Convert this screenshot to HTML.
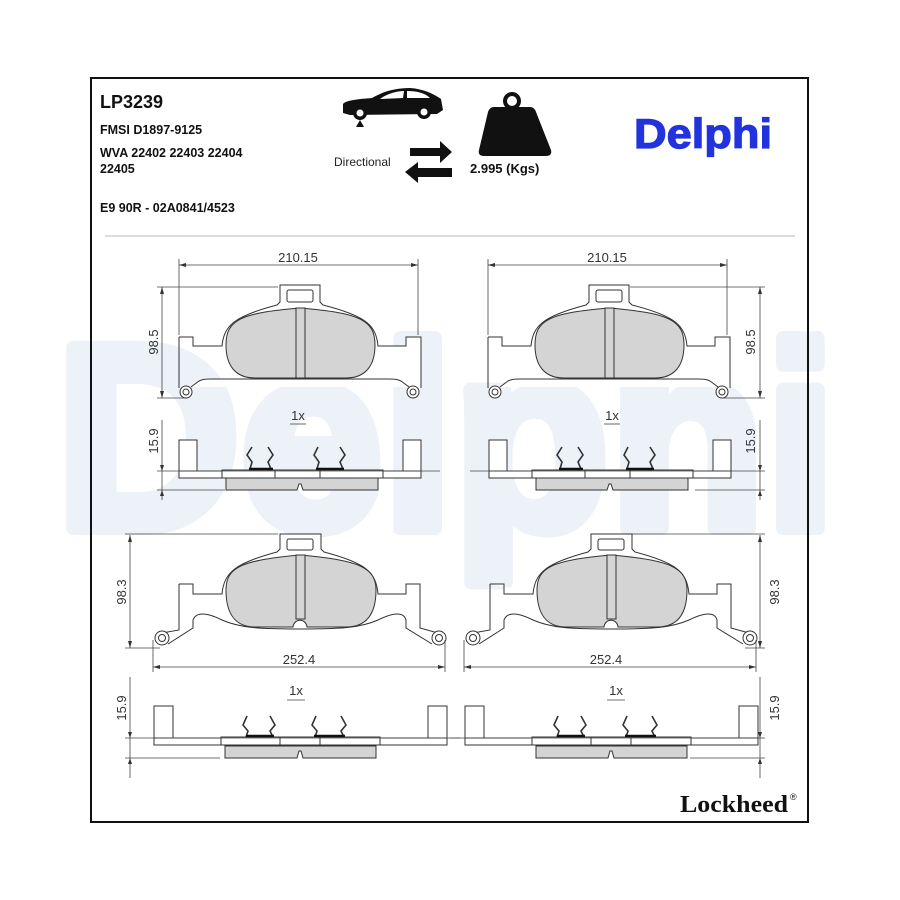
<!DOCTYPE html>
<html><head><meta charset="utf-8"><style>
html,body{margin:0;padding:0;background:#fff;}
svg{display:block}
</style></head><body>
<svg width="900" height="900" viewBox="0 0 900 900" xmlns="http://www.w3.org/2000/svg" font-family="Liberation Sans, sans-serif">
<defs>
<g id="padA" fill="none" stroke="#333" stroke-width="1">
  <path d="M179,337 L193,337 L193,346 L222,346 C224,325 235,316 277,305 L280,302 L280,285 L320,285 L320,302 L323,305 C366,316 376,325 378,346 L406,346 L406,337 L421,337 L421,388 M179,337 L179,388 M191,387 L199,381 C203,379 206,379 212,379 L388,379 C394,379 397,379 401,381 L409,387" fill="#fff"/>
  <rect x="287" y="290" width="26" height="12" rx="2"/>
  <path d="M226,345 C226,320 240,313 300,308 C360,313 375,320 375,345 C375,365 366,378 346,378 L255,378 C235,378 226,365 226,345 Z" fill="#d4d4d4"/>
  <rect x="296" y="308" width="9" height="70" fill="#d4d4d4"/>
  <circle cx="186" cy="392" r="6" fill="#fff"/><circle cx="186" cy="392" r="3"/>
  <circle cx="413" cy="392" r="6" fill="#fff"/><circle cx="413" cy="392" r="3"/>
</g>
<g id="sideA" fill="none" stroke="#333" stroke-width="1">
  <rect x="179" y="440" width="18" height="32" fill="#fff"/>
  <rect x="403" y="440" width="18" height="32" fill="#fff"/>
  <rect x="179" y="471" width="242" height="7" fill="#fff"/>
  <rect x="222" y="470" width="161" height="8" fill="#fff"/>
  <path d="M226,478 L378,478 L378,490 L303,490 L301,484 L299,484 L297,490 L226,490 Z" fill="#d4d4d4"/>
  <line x1="275" y1="470" x2="275" y2="478"/><line x1="320" y1="470" x2="320" y2="478"/>
  <path d="M252,447 L247,455 L252,462 L250,469 M268,447 L273,455 L268,462 L271,469 M318,447 L314,455 L319,462 L317,469 M340,447 L345,455 L340,462 L343,469" stroke-width="1.6"/>
  <path d="M249,469 L273,469 M316,469 L344,469" stroke-width="2.5" stroke="#111"/>
</g>
<g id="padB" fill="none" stroke="#333" stroke-width="1">
  <path d="M179,584 L193,584 L193,594 L222,594 C224,572 236,563 277,552 L280,549 L280,534 L321,534 L321,549 L324,552 C366,563 376,572 378,594 L406,594 L406,584 L420,584 L420,628 L438,633 M179,584 L179,630 L162,633 M168,644 L193,628 L193,620 C196,612 206,612 222,620 C240,628 260,629 300,629 C340,629 360,628 378,620 C394,612 404,612 406,620 L406,628 L432,644" fill="#fff"/>
  <rect x="287" y="539" width="26" height="11" rx="2"/>
  <path d="M226,590 C226,568 240,560 300,555 C360,560 376,568 376,590 C376,612 368,627 346,627 L307,627 C306,618 294,618 293,627 L255,627 C234,627 226,612 226,590 Z" fill="#d4d4d4"/>
  <rect x="296" y="555" width="9" height="64" fill="#d4d4d4"/>
  <circle cx="162" cy="638" r="7" fill="#fff"/><circle cx="162" cy="638" r="3.5"/>
  <circle cx="439" cy="638" r="7" fill="#fff"/><circle cx="439" cy="638" r="3.5"/>
</g>
<g id="sideB" fill="none" stroke="#333" stroke-width="1">
  <rect x="154" y="706" width="19" height="33" fill="#fff"/>
  <rect x="428" y="706" width="19" height="33" fill="#fff"/>
  <rect x="154" y="738" width="293" height="7" fill="#fff"/>
  <rect x="221" y="737" width="159" height="8" fill="#fff"/>
  <path d="M225,746 L376,746 L376,758 L303,758 L301,751 L299,751 L297,758 L225,758 Z" fill="#d4d4d4"/>
  <line x1="280" y1="737" x2="280" y2="745"/><line x1="320" y1="737" x2="320" y2="745"/>
  <path d="M247,716 L243,725 L248,731 L246,737 M270,716 L275,725 L270,731 L273,737 M316,716 L312,725 L317,731 L315,737 M341,716 L346,725 L341,731 L344,737" stroke-width="1.6"/>
  <path d="M246,736 L274,736 M314,736 L345,736" stroke-width="2.5" stroke="#111"/>
</g>
</defs>

<!-- watermark -->
<text x="56" y="528" font-size="262" font-weight="bold" fill="#edf1f8" stroke="#edf1f8" stroke-width="14" stroke-linejoin="round" textLength="780" lengthAdjust="spacingAndGlyphs">Delphi</text>

<rect x="91" y="78" width="717" height="744" fill="none" stroke="#111" stroke-width="2"/>
<line x1="105" y1="236" x2="795" y2="236" stroke="#ddd" stroke-width="2"/>

<!-- header -->
<text x="100" y="108" font-size="18" font-weight="bold" fill="#111">LP3239</text>
<text x="100" y="134" font-size="12.5" font-weight="bold" fill="#111">FMSI D1897-9125</text>
<text x="100" y="157" font-size="12.5" font-weight="bold" fill="#111">WVA 22402 22403 22404</text>
<text x="100" y="173" font-size="12.5" font-weight="bold" fill="#111">22405</text>
<text x="100" y="212" font-size="12.5" font-weight="bold" fill="#111">E9 90R - 02A0841/4523</text>

<!-- car -->
<path d="M343,113 L343,104 C346,100 360,99 372,98 C384,91 396,88 410,88 C424,89 434,94 441,99 L443,110 L437,114 L350,115 Z" fill="#111"/>
<path d="M380,99 C388,93 398,91 404,91 L403,98 Z M407,91 C417,91 425,93 430,98 L407,98 Z" fill="#fff"/>
<circle cx="360" cy="113" r="7" fill="#111"/><circle cx="360" cy="113" r="3.5" fill="#fff"/>
<circle cx="424" cy="112" r="7" fill="#111"/><circle cx="424" cy="112" r="3.5" fill="#fff"/>
<path d="M356,127 L360,120 L364,127 Z" fill="#111"/>
<!-- arrows -->
<path d="M410,148 L440,148 L440,141 L452,152 L440,163 L440,156 L410,156 Z" fill="#111"/>
<path d="M452,168 L418,168 L418,162 L405,172 L418,183 L418,177 L452,177 Z" fill="#111"/>
<text x="334" y="166" font-size="12" fill="#222">Directional</text>
<!-- weight -->
<circle cx="512" cy="101" r="7" fill="none" stroke="#111" stroke-width="4"/>
<path d="M494,107 L530,107 C533,107 535,109 536,112 L551,150 C552,154 550,156 546,156 L484,156 C480,156 478,154 479,150 L488,112 C489,109 491,107 494,107 Z" fill="#111"/>
<text x="470" y="173" font-size="13" font-weight="bold" fill="#111">2.995 (Kgs)</text>
<!-- Delphi logo -->
<text x="634" y="148" font-size="42" font-weight="bold" fill="#2233dd" stroke="#2233dd" stroke-width="1.2" textLength="138" lengthAdjust="spacingAndGlyphs">Delphi</text>

<!-- pads -->
<use href="#padA"/>
<use href="#padA" transform="translate(309,0)"/>
<use href="#sideA"/>
<use href="#sideA" transform="translate(310,0)"/>
<use href="#padB"/>
<use href="#padB" transform="translate(311,0)"/>
<use href="#sideB"/>
<use href="#sideB" transform="translate(311,0)"/>

<g stroke="#444" stroke-width="0.8" fill="none">
  <line x1="179" y1="265" x2="418" y2="265"/><line x1="179" y1="259" x2="179" y2="335"/><line x1="418" y1="259" x2="418" y2="335"/>
  <line x1="162" y1="287" x2="162" y2="398"/><line x1="157" y1="287" x2="278" y2="287"/><line x1="157" y1="398" x2="185" y2="398"/>
  <line x1="162" y1="420" x2="162" y2="500"/><line x1="157" y1="471" x2="440" y2="471"/><line x1="157" y1="490" x2="225" y2="490"/>
  <line x1="290" y1="424" x2="306" y2="424"/>
  <line x1="488" y1="265" x2="727" y2="265"/><line x1="488" y1="259" x2="488" y2="335"/><line x1="727" y1="259" x2="727" y2="335"/>
  <line x1="760" y1="287" x2="760" y2="398"/><line x1="630" y1="287" x2="765" y2="287"/><line x1="722" y1="398" x2="765" y2="398"/>
  <line x1="760" y1="420" x2="760" y2="500"/><line x1="470" y1="471" x2="765" y2="471"/><line x1="695" y1="490" x2="765" y2="490"/>
  <line x1="604" y1="424" x2="620" y2="424"/>
  <line x1="130" y1="535" x2="130" y2="648"/><line x1="125" y1="534" x2="278" y2="534"/><line x1="125" y1="648" x2="160" y2="648"/>
  <line x1="153" y1="667" x2="445" y2="667"/><line x1="153" y1="640" x2="153" y2="672"/><line x1="445" y1="640" x2="445" y2="672"/>
  <line x1="130" y1="677" x2="130" y2="778"/><line x1="125" y1="738" x2="460" y2="738"/><line x1="125" y1="758" x2="220" y2="758"/>
  <line x1="287" y1="700" x2="305" y2="700"/>
  <line x1="760" y1="535" x2="760" y2="648"/><line x1="632" y1="534" x2="765" y2="534"/><line x1="745" y1="648" x2="765" y2="648"/>
  <line x1="464" y1="667" x2="756" y2="667"/><line x1="464" y1="640" x2="464" y2="672"/><line x1="756" y1="640" x2="756" y2="672"/>
  <line x1="760" y1="677" x2="760" y2="778"/><line x1="450" y1="738" x2="765" y2="738"/><line x1="690" y1="758" x2="765" y2="758"/>
  <line x1="607" y1="700" x2="625" y2="700"/>
</g>
<g fill="#333">
  <path d="M179,265 l7,-2 v4 z M418,265 l-7,-2 v4 z M488,265 l7,-2 v4 z M727,265 l-7,-2 v4 z"/>
  <path d="M162,287 l-2,7 h4 z M162,398 l-2,-7 h4 z M760,287 l-2,7 h4 z M760,398 l-2,-7 h4 z"/>
  <path d="M162,471 l-2,-6 h4 z M162,490 l-2,6 h4 z M760,471 l-2,-6 h4 z M760,490 l-2,6 h4 z"/>
  <path d="M130,535 l-2,7 h4 z M130,648 l-2,-7 h4 z M760,535 l-2,7 h4 z M760,648 l-2,-7 h4 z"/>
  <path d="M153,667 l7,-2 v4 z M445,667 l-7,-2 v4 z M464,667 l7,-2 v4 z M756,667 l-7,-2 v4 z"/>
  <path d="M130,738 l-2,-6 h4 z M130,758 l-2,6 h4 z M760,738 l-2,-6 h4 z M760,758 l-2,6 h4 z"/>
</g>
<g font-size="13" fill="#333">
  <text x="298" y="262" text-anchor="middle">210.15</text>
  <text x="607" y="262" text-anchor="middle">210.15</text>
  <text transform="translate(158,342) rotate(-90)" text-anchor="middle">98.5</text>
  <text transform="translate(755,342) rotate(-90)" text-anchor="middle">98.5</text>
  <text x="298" y="420" text-anchor="middle">1x</text>
  <text x="612" y="420" text-anchor="middle">1x</text>
  <text transform="translate(158,441) rotate(-90)" text-anchor="middle">15.9</text>
  <text transform="translate(755,441) rotate(-90)" text-anchor="middle">15.9</text>
  <text transform="translate(126,592) rotate(-90)" text-anchor="middle">98.3</text>
  <text transform="translate(779,592) rotate(-90)" text-anchor="middle">98.3</text>
  <text x="299" y="664" text-anchor="middle">252.4</text>
  <text x="606" y="664" text-anchor="middle">252.4</text>
  <text x="296" y="695" text-anchor="middle">1x</text>
  <text x="616" y="695" text-anchor="middle">1x</text>
  <text transform="translate(126,708) rotate(-90)" text-anchor="middle">15.9</text>
  <text transform="translate(779,708) rotate(-90)" text-anchor="middle">15.9</text>
</g>
<text x="680" y="812" font-family="Liberation Serif, serif" font-size="24" font-weight="bold" fill="#111" textLength="108" lengthAdjust="spacingAndGlyphs">Lockheed</text>
<text x="790" y="800" font-size="9" fill="#111">®</text>
</svg>
</body></html>
